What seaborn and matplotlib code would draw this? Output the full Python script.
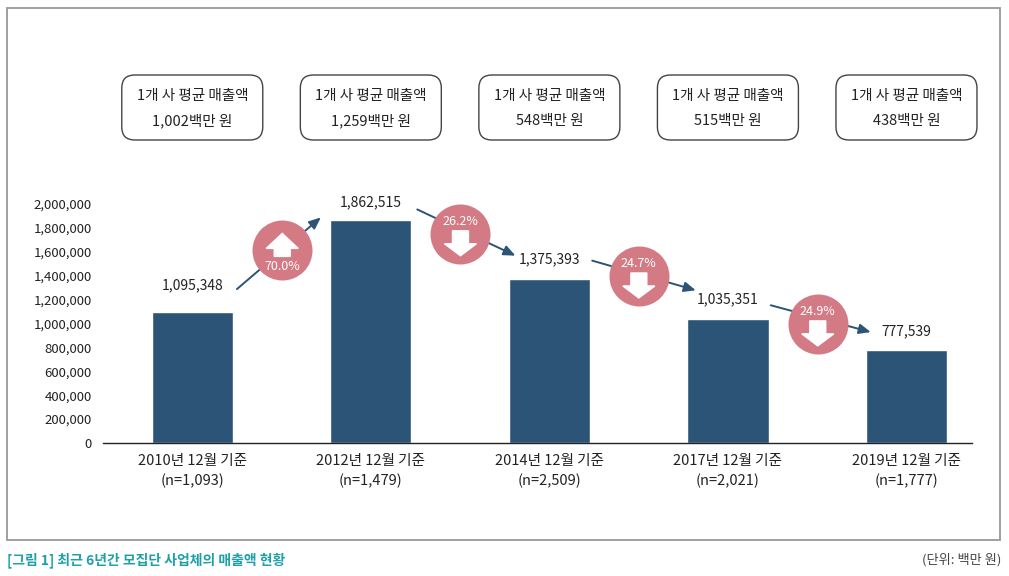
import numpy as np
import pandas as pd
import matplotlib
matplotlib.use("Agg")
import matplotlib.pyplot as plt
import matplotlib.transforms as mtransforms
from matplotlib.patches import FancyBboxPatch, Polygon, Rectangle
import seaborn as sns

# datos
periodos = ["2010년 12월 기준", "2012년 12월 기준", "2014년 12월 기준",
            "2017년 12월 기준", "2019년 12월 기준"]
n_empresas = ["1,093", "1,479", "2,509", "2,021", "1,777"]
ventas = [1095348, 1862515, 1375393, 1035351, 777539]
promedio = ["1,002", "1,259", "548", "515", "438"]
cambios = ["70.0%", "26.2%", "24.7%", "24.9%"]
sube = [True, False, False, False]

# estilo
azul = "#2c5476"
rosa = "#d47a84"
texto = "#222222"
sns.set_style("white")
plt.rcParams["font.family"] = ["Noto Sans CJK KR", "DejaVu Sans"]

W, H = 1009, 576
fig = plt.figure(figsize=(W / 100, H / 100), dpi=100)

# ejes: 0 en y=443 px, 2.000.000 en y=204 px, x de 103 a 972 px
ax = fig.add_axes([103 / W, (H - 443) / H, (972 - 103) / W, 239 / H])
df = pd.DataFrame({"periodo": [f"{p}\n(n={n})" for p, n in zip(periodos, n_empresas)],
                   "ventas": ventas})
sns.barplot(data=df, x="periodo", y="ventas", color=azul, width=0.455,
            saturation=1, ax=ax)
ax.set_xlim(-0.5, 4.367)
ax.set_ylim(0, 2000000)
ax.set_yticks(np.arange(0, 2000001, 200000))
ax.set_yticklabels([f"{v:,}" for v in range(0, 2000001, 200000)])
ax.set_xlabel("")
ax.set_ylabel("")
for s in ["top", "right", "left"]:
    ax.spines[s].set_visible(False)
ax.spines["bottom"].set_color("#222222")
ax.spines["bottom"].set_linewidth(1.0)
ax.tick_params(axis="y", length=0, pad=8, labelsize=9.5, labelcolor=texto)
ax.tick_params(axis="x", length=0, pad=8, labelsize=10.5, labelcolor=texto)
for lab in ax.get_xticklabels():
    lab.set_linespacing(1.45)

px = 2000000 / 239  # unidades de datos por pixel

# etiquetas de valor
label_pad = [27, 18, 19, 20, 19]
for i, v in enumerate(ventas):
    ax.text(i, v + label_pad[i] * px, f"{v:,}", ha="center", va="center",
            fontsize=10, color=texto, clip_on=False)

# flechas y círculos de variación
start_off = [23, 11, 18, 14]
end_off = [3, 23, 29, 18]
start_dx = [0.25, 0.26, 0.24, 0.24]
end_dx = [0.72, 0.81, 0.82, 0.80]
pos_circ = [0.54, 0.44, 0.45, 0.47]
baja_circ = [0, 4, 2, 6]
for i in range(len(cambios)):
    x0, y0 = i + start_dx[i], ventas[i] + start_off[i] * px
    x1, y1 = i + end_dx[i], ventas[i + 1] + end_off[i] * px
    ax.annotate("", xy=(x1, y1), xytext=(x0, y0), annotation_clip=False,
                arrowprops=dict(arrowstyle="-|>,head_length=0.7,head_width=0.3",
                                color=azul, lw=1.4, shrinkA=0, shrinkB=0))
    t = pos_circ[i]
    cx = x0 + t * (x1 - x0)
    cy = y0 + t * (y1 - y0) - baja_circ[i] * px
    ax.scatter([cx], [cy], s=(2 * 30 * 0.72) ** 2, color=rosa, zorder=5,
               clip_on=False, linewidths=0)
    # flecha blanca dentro del círculo (vértices en pulgadas)
    tr = fig.dpi_scale_trans + mtransforms.ScaledTranslation(cx, cy, ax.transData)
    if sube[i]:
        pts = [(0, 17), (16, 2), (8, 2), (8, -6), (-8, -6), (-8, 2), (-16, 2)]
        ty = -16
    else:
        pts = [(0, -22), (16, -10), (8, -10), (8, 3), (-8, 3), (-8, -10), (-16, -10)]
        ty = 12
    pts = [(a / 100, b / 100) for a, b in pts]
    ax.add_patch(Polygon(pts, closed=True, color="white", transform=tr,
                         zorder=6, clip_on=False))
    ax.text(0, ty / 100, cambios[i], transform=tr, ha="center", va="center",
            fontsize=9, color="white", zorder=7)

# cajas de promedio por empresa
for i, p in enumerate(promedio):
    base = mtransforms.blended_transform_factory(ax.transData, fig.transFigure)
    tr = fig.dpi_scale_trans + mtransforms.ScaledTranslation(i, 1 - 107.5 / H, base)
    caja = FancyBboxPatch((-0.705, -0.325), 1.41, 0.65,
                          boxstyle="round,pad=0,rounding_size=0.13",
                          transform=tr, facecolor="white", edgecolor="#444444",
                          linewidth=1.0, clip_on=False)
    fig.add_artist(caja)
    fig.text(0, 0.115, "1개 사 평균 매출액", transform=tr, ha="center",
             va="center", fontsize=10.5, color=texto)
    fig.text(0, -0.135, f"{p}백만 원", transform=tr, ha="center",
             va="center", fontsize=10.5, color=texto)

# marco exterior
fig.add_artist(Rectangle((6.5 / W, (H - 540) / H), (1000 - 6.5) / W, 532 / H,
                         transform=fig.transFigure, fill=False,
                         edgecolor="#999999", linewidth=1.3))

# pie
fig.text(7 / W, 1 - 560 / H, "[그림 1] 최근 6년간 모집단 사업체의 매출액 현황",
         ha="left", va="center", fontsize=10, fontweight="bold", color="#1fa0a8")
fig.text(1001 / W, 1 - 560 / H, "(단위: 백만 원)", ha="right", va="center",
         fontsize=9.5, color="#444444")

fig.savefig("out.png", dpi=100)
